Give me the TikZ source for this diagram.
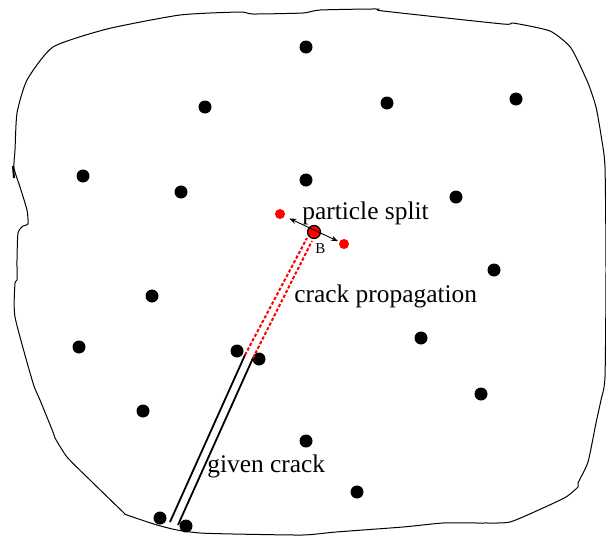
\documentclass[tikz,border=0pt]{standalone}
\usepackage{fontspec}
\setmainfont{Liberation Serif}
\usetikzlibrary{arrows.meta}

\begin{document}
\begin{tikzpicture}[x=0.5pt,y=-0.5pt,
    grain/.style={circle,fill=black,inner sep=0pt,minimum size=6.5pt},
    splitdot/.style={circle,fill=red,inner sep=0pt,minimum size=5pt},
    lbl/.style={font=\fontsize{12.7}{15}\selectfont,inner sep=0pt,anchor=base west}]
        \useasboundingbox (0,0) rectangle (606,536);
        % outline of the body
        \draw[line width=0.5pt] plot[smooth cycle,tension=0.35] coordinates {
            (53,47) (107,29) (180,15) (240,12) (253,14) (303,13) (320,10) (376,9)
            (383,11) (503,24) (513,23) (550,31) (571,48) (588,83) (596,107)
            (601,135) (605,167) (606,270) (605,377) (601,400) (596,423) (588,462)
            (578,483) (578,487) (566,497) (543,508) (510,522) (483,523) (443,523)
            (403,527) (336,532) (303,535) (233,534) (200,533) (177,530) (157,525)
            (127,515) (123,512) (90,480) (67,457) (55,438) (53,432) (40,400)
            (33,383) (15,317) (15,283) (17,280) (17,260) (18,233) (23,226)
            (28,224) (27,210) (20,187) (14,168) (15,150) (17,113) (27,80)};
        \draw[line width=1pt] (13,166) -- (14,178);
        % grains
        \node[grain] (g1) at (306,47) {};
        \node[grain] (g2) at (205,107) {};
        \node[grain] (g3) at (387,103) {};
        \node[grain] (g4) at (516,99) {};
        \node[grain] (g5) at (83,176) {};
        \node[grain] (g6) at (181,192) {};
        \node[grain] (g7) at (306,180) {};
        \node[grain] (g8) at (456,197) {};
        \node[grain] (g9) at (494,270) {};
        \node[grain] (g10) at (152,296) {};
        \node[grain] (g11) at (79,347) {};
        \node[grain] (g12) at (237,351) {};
        \node[grain] (g13) at (259,359) {};
        \node[grain] (g14) at (421,338) {};
        \node[grain] (g15) at (481,394) {};
        \node[grain] (g16) at (143,411) {};
        \node[grain] (g17) at (306,441) {};
        \node[grain] (g18) at (357,492) {};
        % given crack
        \coordinate (c1) at (170,522);
        \coordinate (c2) at (245,355);
        \coordinate (c3) at (178,525);
        \coordinate (c4) at (253,358);
        \draw[line width=0.9pt] (c1) -- (c2);
        \draw[line width=0.9pt] (c3) -- (c4);
        \node[grain] (g19) at (160,518) {};
        \node[grain] (g20) at (186,526) {};
        % crack propagation
        \coordinate (p1) at (307,238);
        \coordinate (p2) at (312,241);
        \draw[red,line width=1pt,dash pattern=on 1.6pt off 1pt] (c2) -- (p1);
        \draw[red,line width=1pt,dash pattern=on 1.6pt off 1pt] (c4) -- (p2);
        % split particle
        \node[circle,fill=red,draw=black,line width=0.6pt,inner sep=0pt,minimum size=6.5pt] (b) at (314,232) {};
        \node[splitdot] (s1) at (280,214) {};
        \node[splitdot] (s2) at (344,244) {};
        \draw[{Stealth[length=3.5pt,width=2.6pt]}-{Stealth[length=3.5pt,width=2.6pt]},line width=0.45pt,
            shorten <=2.5pt,shorten >=0.6pt] (s1) -- (s2);
        \node[font=\fontsize{7.5}{9}\selectfont,inner sep=0pt,anchor=base west] (bl) at (315,253) {B};
        % labels
        \node[lbl] (t1) at (302,219) {particle split};
        \node[lbl] (t2) at (294,302) {crack propagation};
        \node[lbl] (t3) at (207,472) {given crack};
\end{tikzpicture}
\end{document}
